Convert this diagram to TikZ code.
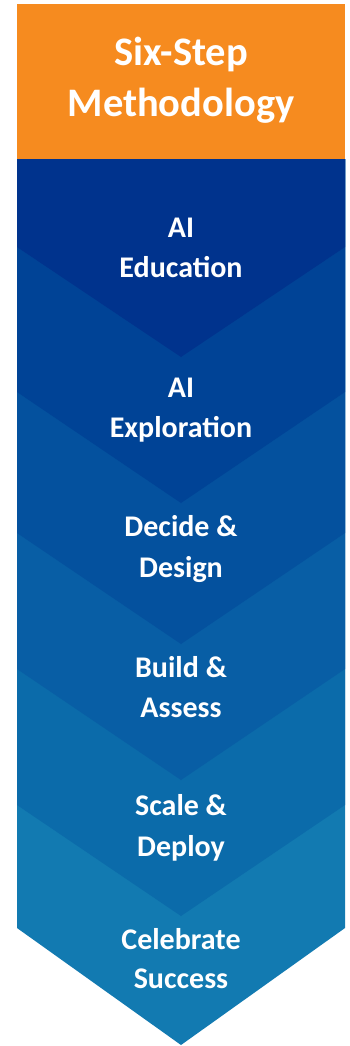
\documentclass[tikz,border=0pt]{standalone}
\usepackage{fontspec}
\setmainfont{Carlito}
\definecolor{hdr}{RGB}{246,139,31}
\definecolor{cA}{RGB}{0,51,141}
\definecolor{cB}{RGB}{0,67,150}
\definecolor{cC}{RGB}{4,81,158}
\definecolor{cD}{RGB}{8,94,165}
\definecolor{cE}{RGB}{11,107,170}
\definecolor{cF}{RGB}{18,122,177}
\tikzset{
  lbl/.style={text=white, font=\fontsize{30}{40}\selectfont\bfseries, anchor=base, inner sep=0pt},
  hlbl/.style={text=white, font=\fontsize{40.5}{50}\selectfont\bfseries, anchor=base, inner sep=0pt},
}
\begin{document}
\begin{tikzpicture}[x=1pt,y=-1pt]
\useasboundingbox[fill=white] (0,0) rectangle (349,1046);
% chevrons, drawn bottom-up so upper ones overlay
\fill[cF] (17,159) -- (345,159) -- (345,928) -- (181,1045) -- (17,928) -- cycle;
\fill[cE] (17,159) -- (345,159) -- (345,805) -- (181,916) -- (17,805) -- cycle;
\fill[cD] (17,159) -- (345,159) -- (345,669) -- (181,780) -- (17,669) -- cycle;
\fill[cC] (17,159) -- (345,159) -- (345,533) -- (181,644) -- (17,533) -- cycle;
\fill[cB] (17,159) -- (345,159) -- (345,392) -- (181,503) -- (17,392) -- cycle;
\fill[cA] (17,159) -- (345,159) -- (345,247) -- (181,357) -- (17,247) -- cycle;
% header
\fill[hdr] (17,4) rectangle (345,159);
\node[hlbl] (h1) at (181,66) {Six-Step};
\node[hlbl] (h2) at (181,117) {Methodology};
% labels
\node[lbl] (s1a) at (181,237) {AI};
\node[lbl] (s1b) at (181,277) {Education};
\node[lbl] (s2a) at (181,397) {AI};
\node[lbl] (s2b) at (181,437) {Exploration};
\node[lbl] (s3a) at (181,536) {Decide \&};
\node[lbl] (s3b) at (181,577) {Design};
\node[lbl] (s4a) at (181,677) {Build \&};
\node[lbl] (s4b) at (181,717) {Assess};
\node[lbl] (s5a) at (181,815) {Scale \&};
\node[lbl] (s5b) at (181,856) {Deploy};
\node[lbl] (s6a) at (181,949) {Celebrate};
\node[lbl] (s6b) at (181,988) {Success};
\end{tikzpicture}
\end{document}
